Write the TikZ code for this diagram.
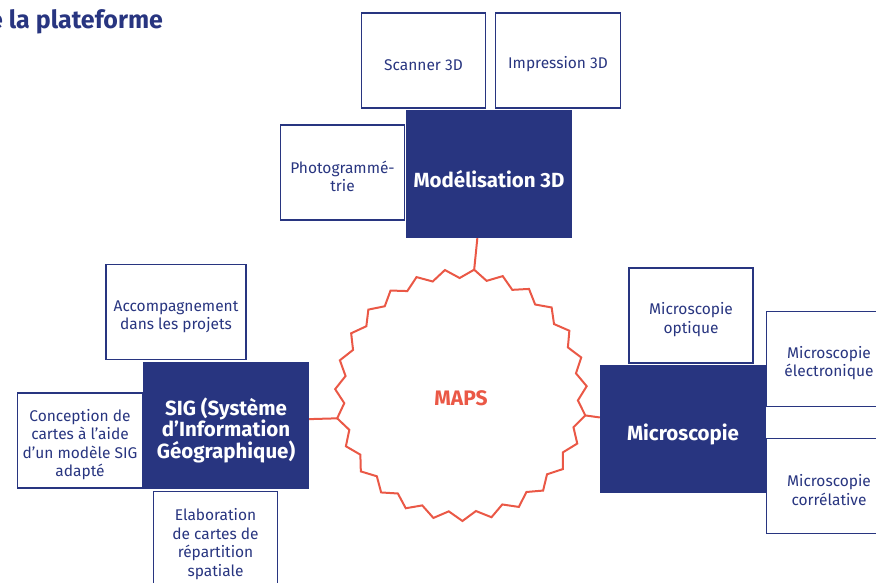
\documentclass[tikz,border=0pt]{standalone}
\usepackage{fontspec}
\setmainfont{Fira Sans}
\usetikzlibrary{calc}
\definecolor{navy}{RGB}{40,53,128}
\definecolor{mapsred}{RGB}{234,88,70}
\newcommand\subgap{\rule{0pt}{20pt}}
\newcommand\maingap{\rule{0pt}{27pt}}
\begin{document}
\begin{tikzpicture}[x=1pt,y=-1pt,
  sub/.style={draw=navy, line width=1.9pt, fill=white, text=navy, align=center,
    font=\fontsize{15.5}{18.5}\selectfont, inner sep=0pt,
    minimum width=124pt, minimum height=95pt},
  mainbox/.style={fill=navy, text=white, align=center,
    font=\fontsize{20.5}{21.5}\selectfont\bfseries, inner sep=0pt,
    minimum width=166pt, minimum height=128pt},
  link/.style={draw=mapsred, line width=2pt, line join=miter}]
\useasboundingbox (0,0) rectangle (876,583);

% title
\node[anchor=base west, text=navy, inner sep=0pt,
  font=\fontsize{25}{25}\selectfont\bfseries] (title) at (-11,29) {e la plateforme};

% sub boxes
\node[sub] (scan)   at (423.5,60.5) {\subgap Scanner 3D};
\node[sub, minimum width=125pt] (impr) at (558,60.5) {\subgap Impression 3D};
\node[sub] (photo)  at (342.5,172.5) {\subgap Photogrammé-\\trie};
\node[sub, minimum width=140pt] (accomp) at (176,312) {\subgap Accompagnement\\dans les projets};
\node[sub, minimum width=125pt] (concep) at (80,440.5) {\subgap Conception de\\cartes à l’aide\\d’un modèle SIG\\adapté};
\node[sub, minimum height=97pt] (elab) at (215.5,540) {\subgap Elaboration\\de cartes de\\répartition\\spatiale};
\node[sub] (mopt)   at (691,315.5) {\subgap Microscopie\\optique};
\node[sub, minimum width=125pt] (melec)  at (829,359) {\subgap Microscopie\\électronique};
\node[sub, minimum width=125pt] (mcorr)  at (829,486) {\subgap Microscopie\\corrélative};

% MAPS star
\draw[link] plot[samples=54, domain=0:53, variable=\k]
  ({461+(121.5+4.5*cos(\k*180))*cos(84+\k*6.66667)},
   {395-(121.5+4.5*cos(\k*180))*sin(84+\k*6.66667)}) -- cycle;
\node[text=mapsred, font=\fontsize{21}{21}\selectfont\bfseries] (maps) at (461,398) {MAPS};
\coordinate (ttop)   at ({461+126*cos(84)},{395-126*sin(84)});
\coordinate (tright) at ({461+126*cos(-9.3333)},{395-126*sin(-9.3333)});
\coordinate (tleft)  at ({461+126*cos(190.6667)},{395-126*sin(190.6667)});

% main boxes
\node[mainbox] (model) at (489,174) {\maingap Modélisation 3D};
\node[mainbox, minimum height=127pt] (sig) at (226,425.5) {\maingap SIG (Système\\d’Information\\Géographique)};
\node[mainbox] (micro) at (683,429) {\maingap Microscopie};

% connectors
\draw[link] (ttop) -- ($(model.south west)!0.43!(model.south east)$);
\draw[link] (tright) -- ($(micro.north west)!0.41!(micro.south west)$);
\draw[link] (tleft) -- ($(sig.north east)!0.45!(sig.south east)$);
\end{tikzpicture}
\end{document}
